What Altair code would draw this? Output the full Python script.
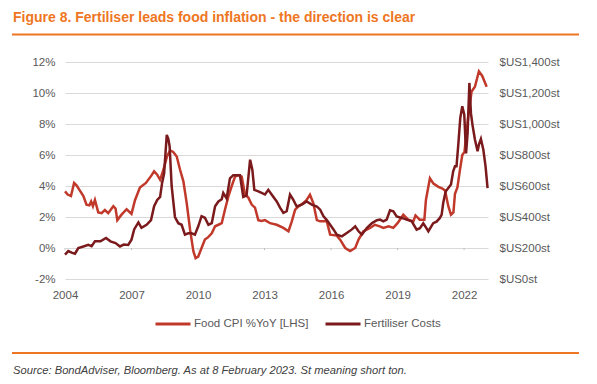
import altair as alt
import pandas as pd

TITLE = "Figure 8. Fertiliser leads food inflation - the direction is clear"
SOURCE = "Source: BondAdviser, Bloomberg. As at 8 February 2023. St meaning short ton."
FOOD = "Food CPI %YoY [LHS]"
FERT = "Fertiliser Costs"

food_year = [2004.00, 2004.12, 2004.27, 2004.41, 2004.52, 2004.65, 2004.83, 2004.97, 2005.10, 2005.18,
             2005.26, 2005.35, 2005.50, 2005.65, 2005.80, 2005.95, 2006.18, 2006.28, 2006.36, 2006.55,
             2006.78, 2007.00, 2007.16, 2007.38, 2007.65, 2007.91, 2008.02, 2008.15, 2008.29, 2008.45,
             2008.60, 2008.74, 2008.88, 2009.04, 2009.19, 2009.34, 2009.49, 2009.64, 2009.79, 2009.89,
             2010.01, 2010.16, 2010.31, 2010.46, 2010.62, 2010.77, 2010.92, 2011.07, 2011.22, 2011.37,
             2011.52, 2011.67, 2011.82, 2011.97, 2012.12, 2012.27, 2012.42, 2012.57, 2012.72, 2012.87,
             2013.02, 2013.25, 2013.55, 2013.85, 2014.08, 2014.23, 2014.38, 2014.53, 2014.75, 2014.90,
             2015.05, 2015.20, 2015.36, 2015.51, 2015.81, 2015.96, 2016.26, 2016.41, 2016.64, 2016.86,
             2017.09, 2017.24, 2017.46, 2017.76, 2017.98, 2018.20, 2018.36, 2018.60, 2018.81, 2019.00,
             2019.26, 2019.48, 2019.71, 2019.81, 2020.00, 2020.21, 2020.28, 2020.46, 2020.62, 2020.84,
             2021.00, 2021.14, 2021.29, 2021.41, 2021.52, 2021.59, 2021.70, 2021.81, 2021.92, 2022.02,
             2022.19, 2022.34, 2022.49, 2022.67, 2022.82, 2023.02]
food_pct = [3.65, 3.45, 3.35, 4.2, 4.05, 3.75, 3.35, 2.8, 2.75, 3.0,
            2.7, 3.1, 2.3, 2.25, 2.45, 2.25, 2.7, 2.55, 1.8, 2.15,
            2.5, 2.2, 3.1, 3.9, 4.2, 4.7, 4.95, 4.75, 4.4, 5.1,
            5.9, 6.3, 6.2, 5.9, 5.05, 4.3, 2.9, 1.2, -0.2, -0.65,
            -0.55, 0.0, 0.55, 0.7, 0.95, 1.4, 1.5, 1.6, 2.5, 3.33,
            4.0, 4.6, 4.7, 4.6, 3.45, 3.25, 2.8, 2.6, 1.8, 1.75,
            1.8, 1.6, 1.5, 1.3, 1.08, 1.72, 2.47, 2.68, 2.9, 3.1,
            3.44, 2.9, 1.8, 1.72, 1.72, 0.86, 0.8, 0.54, 0.0, -0.2,
            0.0, 0.54, 1.08, 1.29, 1.5, 1.4, 1.3, 1.4, 1.3, 1.6,
            2.15, 1.83, 1.72, 2.1, 1.83, 1.83, 3.1, 4.5, 4.15, 3.95,
            3.85, 3.72, 2.7, 2.15, 2.3, 3.5, 3.9, 5.0, 6.0, 6.2,
            8.5, 10.1, 10.4, 11.4, 11.1, 10.4]

fert_year = [2004.00, 2004.15, 2004.30, 2004.45, 2004.60, 2004.83, 2005.05, 2005.20, 2005.35, 2005.60,
             2005.85, 2006.05, 2006.28, 2006.48, 2006.65, 2006.85, 2007.00, 2007.12, 2007.31, 2007.45,
             2007.68, 2007.88, 2008.02, 2008.16, 2008.29, 2008.38, 2008.47, 2008.59, 2008.66, 2008.72,
             2008.81, 2008.96, 2009.11, 2009.26, 2009.41, 2009.56, 2009.71, 2009.86, 2010.01, 2010.16,
             2010.31, 2010.47, 2010.62, 2010.77, 2010.92, 2011.07, 2011.14, 2011.29, 2011.44, 2011.59,
             2011.74, 2011.89, 2012.04, 2012.19, 2012.35, 2012.45, 2012.54, 2012.72, 2012.87, 2013.02,
             2013.17, 2013.32, 2013.55, 2013.70, 2013.85, 2014.00, 2014.15, 2014.30, 2014.45, 2014.68,
             2014.90, 2015.13, 2015.36, 2015.51, 2015.66, 2015.81, 2015.96, 2016.11, 2016.26, 2016.49,
             2016.71, 2016.94, 2017.09, 2017.24, 2017.39, 2017.62, 2017.85, 2018.07, 2018.21, 2018.36,
             2018.51, 2018.66, 2018.81, 2018.96, 2019.19, 2019.41, 2019.64, 2019.86, 2020.01, 2020.16,
             2020.39, 2020.61, 2020.76, 2020.91, 2020.99, 2021.06, 2021.17, 2021.29, 2021.41, 2021.51,
             2021.59, 2021.66, 2021.74, 2021.83, 2021.92, 2022.01, 2022.09, 2022.16, 2022.24, 2022.31,
             2022.39, 2022.49, 2022.61, 2022.67, 2022.76, 2022.87, 2022.97, 2023.06]
fert_usd = [157, 180, 170, 163, 200, 210, 220, 212, 243, 243,
            265, 243, 232, 210, 222, 220, 254, 320, 365, 330,
            350, 380, 470, 510, 530, 620, 680, 930, 905, 855,
            600, 400, 360, 350, 286, 295, 295, 286, 340, 405,
            395, 350, 360, 470, 500, 515, 555, 520, 650, 670,
            670, 670, 530, 540, 770, 705, 575, 565, 555, 545,
            575, 545, 500, 460, 426, 437, 544, 510, 468, 480,
            500, 480, 468, 447, 404, 380, 350, 320, 286, 275,
            297, 320, 340, 308, 286, 330, 361, 379, 383, 372,
            383, 443, 436, 404, 394, 383, 372, 318, 328, 360,
            308, 360, 370, 394, 415, 490, 565, 587, 610, 695,
            727, 727, 867, 1040, 1114, 1060, 810, 940, 1265, 1070,
            985, 900, 824, 867, 903, 834, 727, 587]

x_ticks = [2004, 2007, 2010, 2013, 2016, 2019, 2022]
left_ticks = [-2, 0, 2, 4, 6, 8, 10, 12]
right_ticks = [0, 200, 400, 600, 800, 1000, 1200, 1400]

FONT = "Liberation Sans"
GREY = "#595959"
ORANGE = "#EE7623"
RED = "#C0392B"
DARK = "#7A1A1D"
LBL = 11.5

food = pd.DataFrame({"year": food_year, "value": food_pct, "series": FOOD})
fert = pd.DataFrame({"year": fert_year, "value": fert_usd, "series": FERT})
ticks = pd.DataFrame({"year": x_ticks, "value": 0.0, "low": -0.14})
one = pd.DataFrame({"title": [TITLE], "source": [SOURCE]})

xscale = alt.Scale(domain=[2004, 2023.08], nice=False, zero=False)
lscale = alt.Scale(domain=[-2, 12], nice=False, zero=False)
rscale = alt.Scale(domain=[0, 1400], nice=False, zero=False)
colour = alt.Scale(domain=[FOOD, FERT], range=[RED, DARK])

legend = alt.Legend(orient="none", legendX=89, legendY=243, direction="horizontal",
                    symbolType="stroke", symbolSize=1225, symbolStrokeWidth=3,
                    labelFont=FONT, labelFontSize=LBL, labelColor=GREY, labelOffset=2,
                    columnPadding=10, padding=0, title=None)

xaxis = alt.Axis(values=x_ticks, format="d", grid=False, domain=False, ticks=False,
                 labelPadding=10, labelFont=FONT, labelFontSize=LBL, labelColor=GREY,
                 title=None, labelFlush=False)

laxis = alt.Axis(orient="left", values=left_ticks, labelExpr="datum.value + '%'",
                 grid=True, gridColor="#d9d9d9", gridWidth=1, domain=False, ticks=False,
                 labelPadding=10, labelFont=FONT, labelFontSize=LBL, labelColor=GREY,
                 title=None)

food_line = alt.Chart(food).mark_line(strokeWidth=2.5).encode(
    x=alt.X("year:Q", scale=xscale, axis=xaxis),
    y=alt.Y("value:Q", scale=lscale, axis=laxis),
    color=alt.Color("series:N", scale=colour, legend=legend),
)

tick_marks = alt.Chart(ticks).mark_rule(color="#bfbfbf", strokeWidth=1).encode(
    x=alt.X("year:Q", scale=xscale, axis=xaxis),
    y=alt.Y("value:Q", scale=lscale, axis=laxis),
    y2="low:Q",
)

left_layer = alt.layer(food_line, tick_marks)

fert_line = alt.Chart(fert).mark_line(strokeWidth=2.5).encode(
    x=alt.X("year:Q", scale=xscale, axis=xaxis),
    y=alt.Y("value:Q", scale=rscale,
            axis=alt.Axis(orient="right", values=right_ticks,
                          labelExpr="'$US' + format(datum.value, ',') + 'st'",
                          grid=False, domain=False, ticks=False, labelPadding=11,
                          labelFont=FONT, labelFontSize=LBL, labelColor=GREY, title=None)),
    color=alt.Color("series:N", scale=colour, legend=legend),
)

title_text = alt.Chart(one).mark_text(align="left", baseline="alphabetic", font=FONT,
                                      fontSize=14, fontWeight="bold", color=ORANGE).encode(
    x=alt.value(-52), y=alt.value(-40), text="title:N")

source_text = alt.Chart(one).mark_text(align="left", baseline="alphabetic", font=FONT,
                                       fontSize=11.2, fontStyle="italic", color="#404040").encode(
    x=alt.value(-52), y=alt.value(312), text="source:N")

top_rule = alt.Chart(one).mark_rule(color=ORANGE, strokeWidth=2).encode(
    x=alt.value(-53), x2=alt.value(514), y=alt.value(-27.5))
bottom_rule = alt.Chart(one).mark_rule(color=ORANGE, strokeWidth=2).encode(
    x=alt.value(-53), x2=alt.value(514), y=alt.value(291))

chart = alt.layer(
    left_layer, fert_line, title_text, source_text, top_rule, bottom_rule
).resolve_scale(y="independent").properties(
    width=423, height=217,
    padding={"left": 57, "top": 54, "right": 101, "bottom": 97},
    autosize=alt.AutoSizeParams(type="none"),
    background="white",
).configure_view(stroke=None)

chart.save("out.html", embed_options={"renderer": "svg", "actions": False})
